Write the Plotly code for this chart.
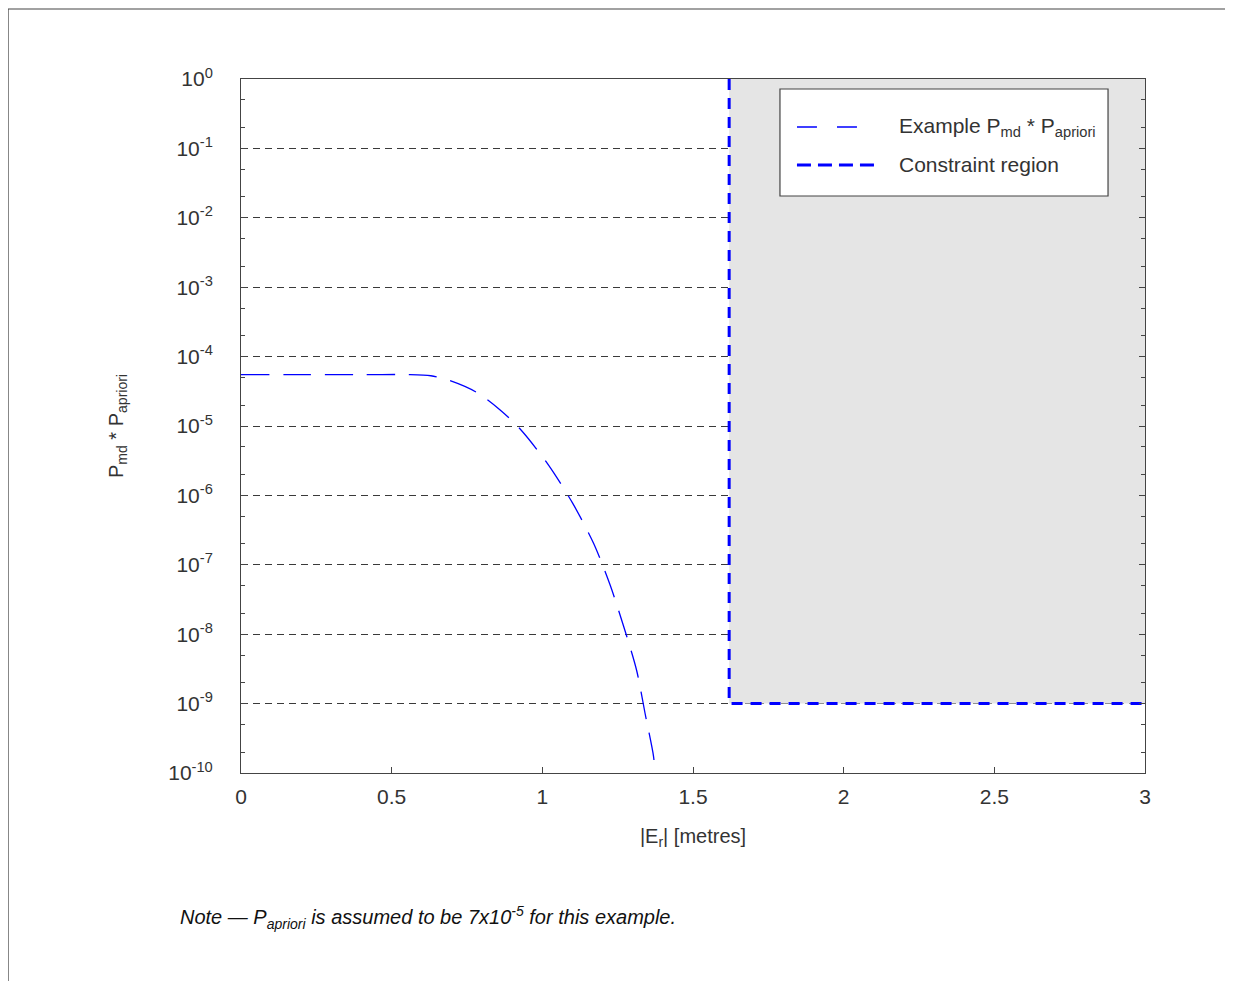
import plotly.graph_objects as go

# Example curve Pmd * Papriori
err_x = [0, 0.2, 0.4, 0.55, 0.63, 0.69, 0.78, 0.86, 0.93, 1.02, 1.10, 1.17,
         1.225, 1.27, 1.313, 1.341, 1.369, 1.374]
pmd_pap = [5.5e-5, 5.5e-5, 5.5e-5, 5.5e-5, 5.3e-5, 4.57e-5, 3.09e-5, 1.70e-5,
           8.7e-6, 2.75e-6, 7.8e-7, 2.04e-7, 5.1e-8, 1.29e-8, 3.0e-9, 7.2e-10,
           1.74e-10, 1e-10]

# Constraint region corner
limit_x = 1.62
limit_y = 1e-9
x_max = 3
y_top = 1

legend_names = ["Example P<sub>md</sub> * P<sub>apriori</sub>", "Constraint region"]

y_tickvals = [10.0 ** -k for k in range(0, 11)]
y_ticktext = ["10<sup>%d</sup>" % (-k) if k else "10<sup>0</sup>" for k in range(0, 11)]
x_tickvals = [0, 0.5, 1, 1.5, 2, 2.5, 3]
x_ticktext = ["0", "0.5", "1", "1.5", "2", "2.5", "3"]

font = "Liberation Sans, Arial, sans-serif"

fig = go.Figure()

# gray shaded constraint region
fig.add_trace(go.Scatter(
    x=[limit_x, x_max, x_max, limit_x, limit_x],
    y=[y_top, y_top, limit_y, limit_y, y_top],
    fill="toself", fillcolor="#e5e5e5", mode="lines",
    line=dict(width=0), showlegend=False, hoverinfo="skip"))

fig.add_trace(go.Scatter(
    x=err_x, y=pmd_pap, mode="lines", name=legend_names[0], showlegend=False,
    line=dict(color="#0000ff", width=1.3, dash="28px,14px", shape="spline", smoothing=0.8)))

fig.add_trace(go.Scatter(
    x=[limit_x, limit_x, x_max], y=[y_top, limit_y, limit_y], mode="lines",
    name=legend_names[1], showlegend=False,
    line=dict(color="#0000ff", width=3, dash="11px,8px")))

fig.update_xaxes(
    range=[0, 3], tickvals=x_tickvals, ticktext=x_ticktext,
    showline=True, linecolor="#444", linewidth=1, mirror=True,
    ticks="inside", ticklen=6, tickcolor="#444", showgrid=False, zeroline=False,
    ticklabelstandoff=5,
    tickfont=dict(size=21, color="#333", family=font),
    title=dict(text="|E<sub>r</sub>| [metres]", font=dict(size=20, color="#333", family=font),
               standoff=21))

fig.update_yaxes(
    type="log", range=[-10, 0], tickvals=y_tickvals, ticktext=y_ticktext,
    showline=True, linecolor="#444", linewidth=1, mirror="ticks",
    ticks="inside", ticklen=6, tickcolor="#444",
    minor=dict(ticks="inside", ticklen=4, tickcolor="#444", showgrid=False),
    showgrid=True, gridcolor="#3a3a3a", griddash="7px,5px", gridwidth=1,
    ticklabelstandoff=23,
    tickfont=dict(size=21, color="#333", family=font),
    title=dict(text="P<sub>md</sub> * P<sub>apriori</sub>", font=dict(size=20, color="#333", family=font),
               standoff=39))

# hand-drawn legend box, like the original
legend_shapes = [
    dict(type="rect", xref="paper", yref="paper", x0=0.5962, x1=0.9591, y0=0.8314, y1=0.9856,
         fillcolor="white", line=dict(color="#444", width=1.2), layer="above"),
    dict(type="line", xref="paper", yref="paper", x0=0.6150, x1=0.6814, y0=0.9308, y1=0.9308,
         line=dict(color="#0000ff", width=1.3, dash="20px,20px"), layer="above"),
    dict(type="line", xref="paper", yref="paper", x0=0.6150, x1=0.7002, y0=0.8761, y1=0.8761,
         line=dict(color="#0000ff", width=3, dash="14px,7px"), layer="above"),
]

fig.update_layout(
    width=1233, height=981,
    margin=dict(l=233, r=96, t=71, b=216),
    paper_bgcolor="white", plot_bgcolor="white",
    font=dict(family=font, color="#333"),
    showlegend=False,
    shapes=[dict(type="rect", xref="paper", yref="paper",
                 x0=-0.2577, x1=1.3, y0=-0.5, y1=1.1009,
                 line=dict(color="#444", width=1.2), fillcolor="rgba(0,0,0,0)",
                 layer="below")] + legend_shapes,
    annotations=[
        dict(xref="paper", yref="paper", x=0.7257, y=0.9308, xanchor="left", yanchor="middle",
             showarrow=False, text=legend_names[0], font=dict(size=21, color="#333", family=font)),
        dict(xref="paper", yref="paper", x=0.7257, y=0.8761, xanchor="left", yanchor="middle",
             showarrow=False, text=legend_names[1], font=dict(size=21, color="#333", family=font)),
        dict(xref="paper", yref="paper", x=-0.0697, y=-0.2089,
             xanchor="left", yanchor="middle", showarrow=False,
             text="<i>Note — P<sub>apriori</sub> is assumed to be 7x10<sup>-5</sup> for this example.</i>",
             font=dict(size=20, color="#111", family=font))],
)

fig.write_html("out.html")
